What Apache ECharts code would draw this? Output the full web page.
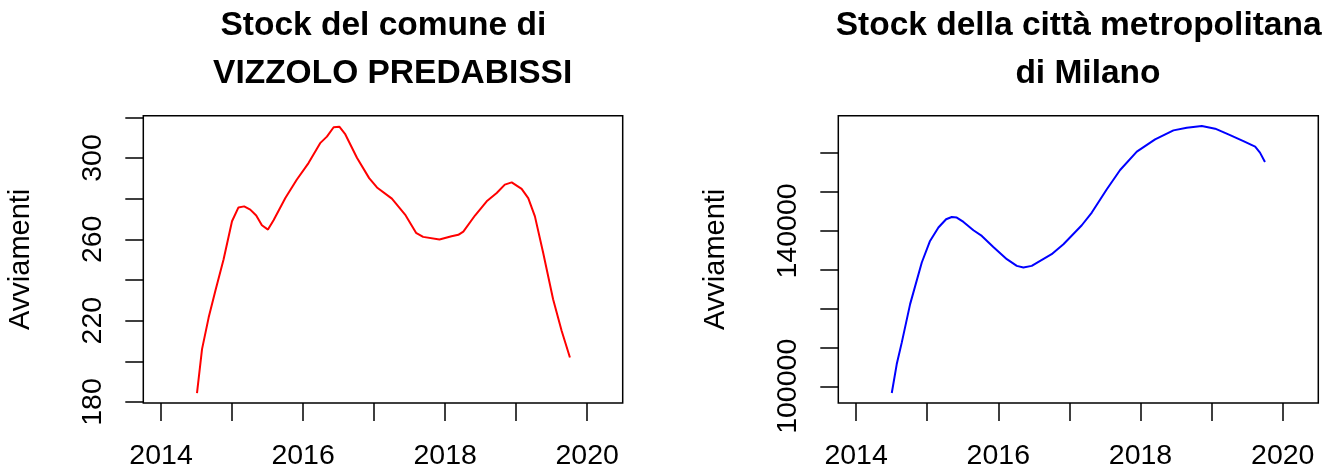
<!DOCTYPE html>
<html>
<head>
<meta charset="utf-8">
<script src="https://cdn.jsdelivr.net/npm/echarts@6/dist/echarts.min.js"></script>
<style>
html,body{margin:0;padding:0;background:#fff;}
#chart{width:1326px;height:471px;}
</style>
</head>
<body>
<div id="chart"></div>
<script>
// ---- data ----
const leftTitle = "Stock del comune di \n VIZZOLO PREDABISSI";
const rightTitle = "Stock della città metropolitana \n di Milano";
const yName = "Avviamenti";

const leftYears = [2014.506, 2014.577, 2014.67, 2014.764, 2014.88, 2014.999, 2015.09, 2015.17, 2015.256, 2015.34, 2015.42, 2015.505, 2015.584, 2015.75, 2015.91, 2016.076, 2016.24, 2016.335, 2016.43, 2016.51, 2016.59, 2016.76, 2016.93, 2017.04, 2017.25, 2017.436, 2017.59, 2017.69, 2017.92, 2018.09, 2018.186, 2018.256, 2018.42, 2018.585, 2018.726, 2018.84, 2018.937, 2019.077, 2019.17, 2019.264, 2019.38, 2019.52, 2019.64, 2019.757];
const leftValues = [184.4, 206.0, 221.5, 234.6, 250.1, 268.9, 275.7, 276.2, 274.6, 271.7, 266.9, 264.8, 269.4, 280.3, 289.3, 297.5, 307.3, 310.5, 315.1, 315.4, 311.9, 300.0, 290.1, 285.5, 280.0, 272.2, 263.2, 261.2, 259.9, 261.5, 262.2, 263.8, 271.7, 278.7, 282.8, 286.9, 288.0, 284.8, 280.3, 271.3, 253.4, 230.5, 215.0, 201.9];

const rightYears = [2014.502, 2014.572, 2014.643, 2014.76, 2014.924, 2015.04, 2015.158, 2015.266, 2015.346, 2015.416, 2015.51, 2015.65, 2015.768, 2015.93, 2016.12, 2016.26, 2016.353, 2016.47, 2016.75, 2016.916, 2017.174, 2017.315, 2017.526, 2017.713, 2017.948, 2018.205, 2018.463, 2018.65, 2018.862, 2019.05, 2019.236, 2019.447, 2019.612, 2019.68, 2019.75];
const rightValues = [98278, 105733, 111311, 121157, 131877, 137429, 140874, 143008, 143599, 143445, 142314, 140180, 138715, 135887, 132725, 131003, 130591, 131003, 134010, 136581, 141465, 144730, 150720, 155681, 160411, 163573, 165887, 166581, 166992, 166324, 164859, 163136, 161697, 160154, 157738];

const xTicks = [2014, 2015, 2016, 2017, 2018, 2019, 2020];
const xLabels = [2014, 2016, 2018, 2020];
const leftYTicks = [180, 200, 220, 240, 260, 280, 300, 320];
const leftYLabels = [180, 220, 260, 300];
const rightYTicks = [100000, 110000, 120000, 130000, 140000, 150000, 160000];
const rightYLabels = [100000, 140000];

// ---- chart ----
const FONT = "'Liberation Sans', Arial, Helvetica, sans-serif";
const pairs = (xs, ys) => xs.map((x, i) => [x, ys[i]]);

function xAxis(gi) {
  return {
    type: 'value', gridIndex: gi, min: 2013.75, max: 2020.5,
    axisLine: { show: false },
    splitLine: { show: false },
    axisTick: { show: true, length: 18, customValues: xTicks, lineStyle: { color: '#000', width: 1.5 } },
    axisLabel: { show: true, customValues: xLabels, margin: 39, color: '#000', fontSize: 28.5, fontFamily: FONT, formatter: v => String(v) }
  };
}
function yAxis(gi, min, max, ticks, labels) {
  return {
    type: 'value', gridIndex: gi, min: min, max: max,
    name: yName, nameLocation: 'middle', nameRotate: 90, nameGap: 108,
    nameTextStyle: { color: '#000', fontSize: 29, fontFamily: FONT },
    axisLine: { show: false },
    splitLine: { show: false },
    axisTick: { show: true, length: 18, customValues: ticks, lineStyle: { color: '#000', width: 1.5 } },
    axisLabel: { show: true, customValues: labels, rotate: 90, margin: 36, color: '#000', fontSize: 28.5, fontFamily: FONT, formatter: v => String(v) }
  };
}

const chart = echarts.init(document.getElementById('chart'), null, { renderer: 'canvas' });
chart.setOption({
  backgroundColor: '#fff',
  animation: false,
  title: [
    { text: leftTitle, left: 383, top: -3, textAlign: 'center',
      textStyle: { fontSize: 33.5, fontWeight: 'bold', color: '#000', fontFamily: FONT, lineHeight: 48, align: 'center' } },
    { text: rightTitle, left: 1078.3, top: -3, textAlign: 'center',
      textStyle: { fontSize: 33.5, fontWeight: 'bold', color: '#000', fontFamily: FONT, lineHeight: 48, align: 'center' } }
  ],
  grid: [
    { left: 143.3, top: 115.7, width: 479.4, height: 288.3, show: true, borderColor: '#000', borderWidth: 1.5, backgroundColor: 'transparent' },
    { left: 838.3, top: 115.7, width: 480, height: 288.3, show: true, borderColor: '#000', borderWidth: 1.5, backgroundColor: 'transparent' }
  ],
  xAxis: [xAxis(0), xAxis(1)],
  yAxis: [
    yAxis(0, 179.5, 320.8, leftYTicks, leftYLabels),
    yAxis(1, 95707, 169666, rightYTicks, rightYLabels)
  ],
  series: [
    { type: 'line', xAxisIndex: 0, yAxisIndex: 0, data: pairs(leftYears, leftValues), showSymbol: false, lineStyle: { color: '#ff0000', width: 2 }, itemStyle: { color: '#ff0000' } },
    { type: 'line', xAxisIndex: 1, yAxisIndex: 1, data: pairs(rightYears, rightValues), showSymbol: false, lineStyle: { color: '#0000ff', width: 2 }, itemStyle: { color: '#0000ff' } }
  ]
});
</script>
</body>
</html>
